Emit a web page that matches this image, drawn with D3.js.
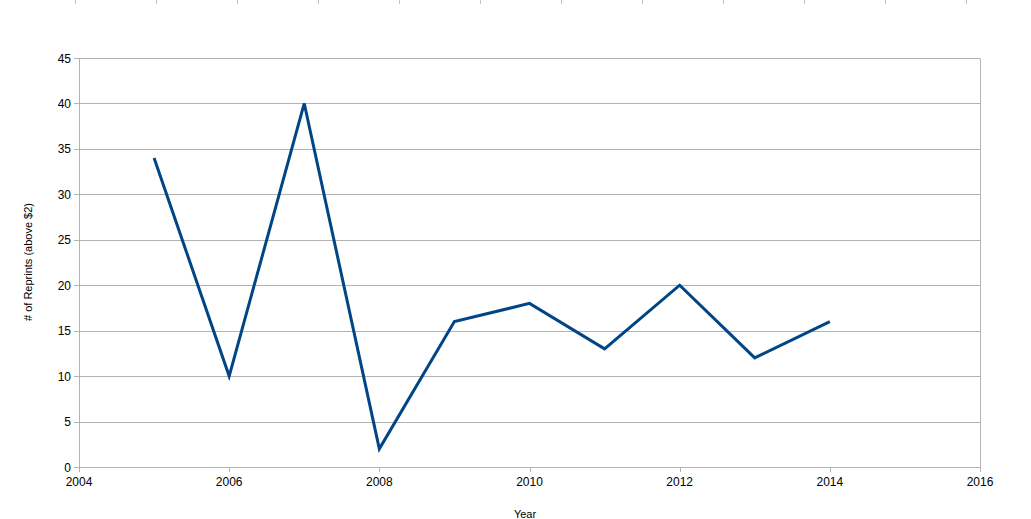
<!DOCTYPE html>
<html><head><meta charset="utf-8">
<script src="https://cdn.jsdelivr.net/npm/d3@7"></script>
<style>body{margin:0;background:#fff}svg{display:block}text{font-family:"Liberation Sans",Arial,sans-serif;fill:#000}</style>
</head><body><svg id="c" width="1031" height="519"></svg>
<script>
const years = [2005,2006,2007,2008,2009,2010,2011,2012,2013,2014];
const reprints = [34,10,40,2,16,18,13,20,12,16];
const xTicks = [2004,2006,2008,2010,2012,2014,2016];
const yTicks = [0,5,10,15,20,25,30,35,40,45];
const topMarks = [0,1,2,3,4,5,6,7,8,9,10,11];

const svg = d3.select("#c");
const L=79, R=980, T=58, B=467;
const x = d3.scaleLinear().domain([2004,2016]).range([L,R]);
const y = d3.scaleLinear().domain([0,45]).range([B,T]);
const grid="#b3b3b3";

// small marks at the very top
const tm = d3.scaleLinear().domain([0,11]).range([75,966]);
svg.selectAll(".tm").data(topMarks).enter().append("line")
  .attr("x1",d=>Math.round(tm(d))+0.5).attr("x2",d=>Math.round(tm(d))+0.5)
  .attr("y1",0).attr("y2",4).attr("stroke","#c0c0c0");

// horizontal gridlines
svg.selectAll(".g").data(yTicks).enter().append("line")
  .attr("x1",L-5).attr("x2",R).attr("y1",d=>Math.round(y(d))+0.5).attr("y2",d=>Math.round(y(d))+0.5)
  .attr("stroke",grid);
// left and right borders
[L,R].forEach(v=>svg.append("line").attr("x1",v+0.5).attr("x2",v+0.5).attr("y1",Math.round(T)+0.5).attr("y2",B+5).attr("stroke",grid));
// x tick marks
svg.selectAll(".xt").data(xTicks).enter().append("line")
  .attr("x1",d=>Math.round(x(d))+0.5).attr("x2",d=>Math.round(x(d))+0.5)
  .attr("y1",B).attr("y2",B+5).attr("stroke",grid);

// labels
svg.selectAll(".yl").data(yTicks).enter().append("text")
  .attr("x",L-8).attr("y",d=>y(d)+4.5).attr("text-anchor","end").attr("font-size",12).text(d=>d);
svg.selectAll(".xl").data(xTicks).enter().append("text")
  .attr("x",d=>x(d)).attr("y",B+19).attr("text-anchor","middle").attr("font-size",12).text(d=>d);

svg.append("text").attr("transform","translate(32,262) rotate(-90)").attr("text-anchor","middle")
  .attr("font-size",11).text("# of Reprints (above $2)");
svg.append("text").attr("x",525).attr("y",518).attr("text-anchor","middle").attr("font-size",11).text("Year");

// line
svg.append("path").datum(years.map((d,i)=>[d,reprints[i]]))
  .attr("d",d3.line().x(d=>x(d[0])).y(d=>y(d[1])))
  .attr("fill","none").attr("stroke","#004586").attr("stroke-width",3).attr("stroke-linejoin","miter");
</script></body></html>
